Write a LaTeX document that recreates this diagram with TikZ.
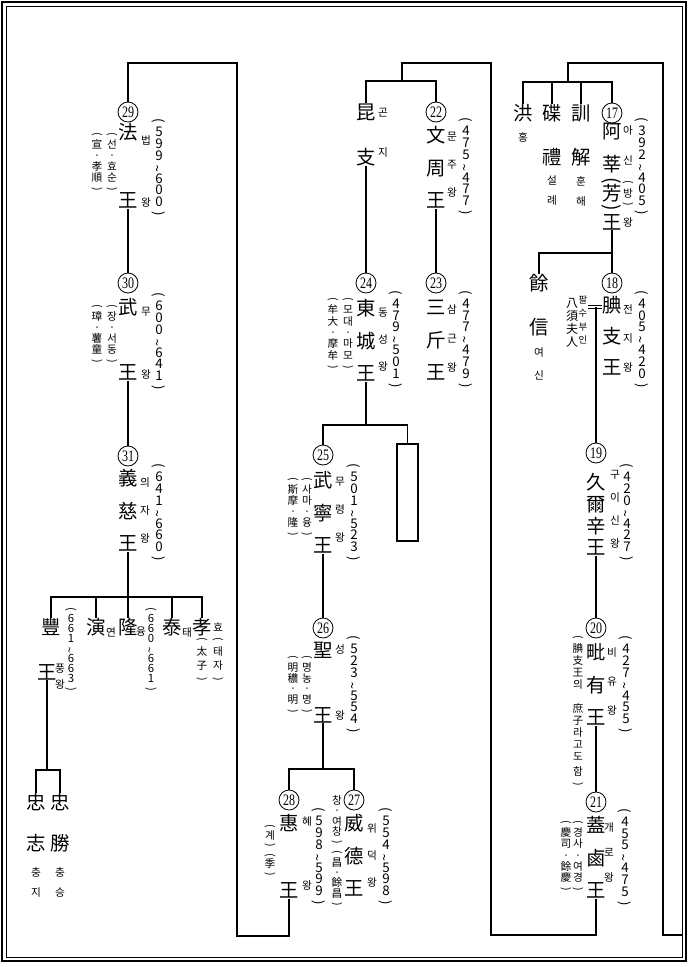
\documentclass[tikz,border=0pt]{standalone}
\usepackage{fontspec}
\usepackage{graphicx}
\setmainfont{Noto Sans CJK KR}
\newfontfamily\numfont{Liberation Serif}
\lineskiplimit=-\maxdimen
% vertical brackets and tilde
\newcommand\vlp{\rotatebox[origin=c]{-90}{(}}
\newcommand\vrp{\rotatebox[origin=c]{-90}{)}}
\newcommand\vtl{\rotatebox[origin=c]{90}{\textasciitilde}}
\newcommand\yrs[6]{\vlp\\#1\\#2\\#3\\\vtl\\#4\\#5\\#6\\\vrp}
\newcommand\ordno[1]{\scalebox{.75}[1]{#1}}

\begin{document}
\begin{tikzpicture}[x=0.75pt,y=-0.75pt,
			link/.style={line width=1pt},
			kingname/.style={font=\fontsize{14.5}{#1}\selectfont,align=center,inner sep=0pt},
			kingname/.default=24.4pt,
			rubytext/.style={font=\fontsize{8}{#1}\selectfont,align=center,inner sep=0pt},
			rubytext/.default=21pt,
			reignyears/.style={font=\fontsize{10}{8.7}\selectfont,align=center,inner sep=0pt},
			aliasnote/.style={font=\fontsize{8}{#1}\selectfont,align=center,inner sep=0pt},
			aliasnote/.default=8.5pt,
			ordinal/.style={circle,draw,line width=0.6pt,minimum size=15pt,inner sep=0pt,
				font=\numfont\fontsize{12}{12}\selectfont}
			]
			\useasboundingbox (0,0) rectangle (690,967);
			% frame
			\draw[line width=1.8pt] (2,2) rectangle (686,961);
			\draw[line width=0.7pt] (6,6) rectangle (682,957);

			% right column: 17 - 21
			\node[ordinal] (c17) at (612,113) {\ordno{17}};
			\node[kingname] (n17) at (612,176.5) {阿\\莘\\[-12.75pt]\vlp\\[-14.25pt]芳\\[-14.25pt]\vrp\\[-12.75pt]王};
			\node[rubytext=24.75pt] (r17) at (628,176) {아\\[-2.25pt]신\\[-8.25pt]\vlp\\[-16.5pt]방\\[-16.5pt]\vrp\\[-11.25pt]왕};
			\node[reignyears] (y17) at (642,167.5) {\yrs392405};
			\node[kingname] (hong) at (523,113) {洪};
			\node[rubytext] (hongr) at (523,137) {홍};
			\node[kingname=33pt] (seolye) at (552,135) {碟\\禮};
			\node[rubytext=15pt] (seolyer) at (552,191) {설\\례};
			\node[kingname=33pt] (hunhae) at (581,135) {訓\\解};
			\node[rubytext=15pt] (hunhaer) at (581,191) {훈\\해};

			\node[kingname=33pt] (yeosin) at (539,305) {餘\\信};
			\node[rubytext=17.25pt] (yeosinr) at (539,363.5) {여\\신};
			\node[ordinal] (c18) at (612,283) {\ordno{18}};
			\node[kingname=23.25pt] (n18) at (612,336) {腆\\支\\王};
			\node[rubytext=21.4pt] (r18) at (628,338.5) {전\\지\\왕};
			\node[reignyears] (y18) at (642,340) {\yrs405420};
			\node[align=center,inner sep=0pt,font=\fontsize{9}{9.75}\selectfont] (palsu) at (572,322.5) {八\\須\\夫\\人};
			\node[rubytext=10pt,font=\fontsize{7}{10}\selectfont] (palsur) at (583,320) {팔\\수\\부\\인};

			\node[ordinal] (c19) at (596,453) {\ordno{19}};
			\node[kingname=16.25pt] (n19) at (596,514.5) {久\\爾\\辛\\王};
			\node[rubytext=17.25pt] (r19) at (615,509.5) {구\\이\\신\\왕};
			\node[reignyears] (y19) at (627,513.5) {\yrs420427};

			\node[ordinal] (c20) at (596,628) {\ordno{20}};
			\node[kingname] (n20) at (596,684.5) {毗\\有\\王};
			\node[rubytext=21.75pt] (r20) at (612,681) {비\\유\\왕};
			\node[reignyears] (y20) at (626,685.5) {\yrs427455};
			\node[aliasnote=9pt] (a20) at (578,711.5) {\vlp\\腆\\支\\王\\의\\[9pt]庶\\子\\라\\고\\도\\[2.25pt]함\\\vrp};

			\node[ordinal] (c21) at (596,802) {\ordno{21}};
			\node[kingname] (n21) at (596,857.5) {蓋\\鹵\\王};
			\node[rubytext=19.1pt] (r21) at (609,852.5) {개\\로\\왕};
			\node[reignyears] (y21) at (625,858) {\yrs455475};
			\node[aliasnote=8.4pt] (a21) at (578,856.5) {\vlp\\경\\사\\·\\여\\경\\\vrp};
			\node[aliasnote=8.4pt] (b21) at (566,856.5) {\vlp\\慶\\司\\·\\餘\\慶\\\vrp};

			% middle column: 22 - 28
			\node[kingname=33.75pt] (gonji) at (366,134.5) {昆\\支};
			\node[rubytext=30pt] (gonjir) at (383,133) {곤\\지};
			\node[ordinal] (c22) at (436,112) {\ordno{22}};
			\node[kingname] (n22) at (436,167.5) {文\\周\\王};
			\node[rubytext] (r22) at (452,165) {문\\주\\왕};
			\node[reignyears] (y22) at (466,167.5) {\yrs475477};

			\node[ordinal] (c23) at (436,283) {\ordno{23}};
			\node[kingname] (n23) at (436,340.5) {三\\斤\\王};
			\node[rubytext=21.4pt] (r23) at (452,338.5) {삼\\근\\왕};
			\node[reignyears] (y23) at (466,340) {\yrs477479};

			\node[ordinal] (c24) at (366,283) {\ordno{24}};
			\node[kingname] (n24) at (366,340.5) {東\\城\\王};
			\node[rubytext=20.25pt] (r24) at (383,340) {동\\성\\왕};
			\node[reignyears] (y24) at (396,340) {\yrs479501};
			\node[aliasnote] (a24) at (348,334) {\vlp\\모\\대\\·\\마\\모\\\vrp};
			\node[aliasnote] (b24) at (333,334) {\vlp\\牟\\大\\·\\摩\\牟\\\vrp};

			\node[draw,line width=1.2pt,minimum width=15.75pt,minimum height=72.75pt,inner sep=0pt] (blank) at (407.5,492.5) {};

			\node[ordinal] (c25) at (323,455) {\ordno{25}};
			\node[kingname] (n25) at (323,512.5) {武\\寧\\王};
			\node[rubytext] (r25) at (340,510) {무\\령\\왕};
			\node[reignyears] (y25) at (354,513.5) {\yrs501523};
			\node[aliasnote=8.25pt] (a25) at (307,507.5) {\vlp\\사\\마\\·\\융\\\vrp};
			\node[aliasnote=8.25pt] (b25) at (293,507.5) {\vlp\\斯\\摩\\·\\隆\\\vrp};

			\node[ordinal] (c26) at (323,628) {\ordno{26}};
			\node[kingname=48.75pt] (n26) at (323,682.5) {聖\\王};
			\node[rubytext=49.5pt] (r26) at (340,682) {성\\왕};
			\node[reignyears] (y26) at (354,685.5) {\yrs523554};
			\node[aliasnote=8.1pt] (a26) at (307,685) {\vlp\\명\\농\\·\\명\\\vrp};
			\node[aliasnote=8.1pt] (b26) at (293,685) {\vlp\\明\\穠\\·\\明\\\vrp};

			\node[ordinal] (c27) at (354,800) {\ordno{27}};
			\node[kingname] (n27) at (354,855.5) {威\\德\\王};
			\node[rubytext=20.6pt] (r27) at (372,855.5) {위\\덕\\왕};
			\node[reignyears] (y27) at (386,857.5) {\yrs554598};
			\node[aliasnote=7.7pt] (a27) at (337,851.5) {창\\·\\여\\창\\\vrp\\\vlp\\昌\\·\\餘\\昌\\\vrp};

			\node[ordinal] (c28) at (289,800) {\ordno{28}};
			\node[kingname=50.25pt] (n28) at (289,856.5) {惠\\王};
			\node[rubytext=48pt] (r28) at (307,853) {혜\\왕};
			\node[reignyears] (y28) at (319,857.5) {\yrs598599};
			\node[aliasnote=7.2pt] (a28) at (270,851) {\vlp\\계\\\vrp\\\vlp\\季\\\vrp};

			% left column: 29 - 31
			\node[ordinal] (c29) at (128,112) {\ordno{29}};
			\node[kingname=51pt] (n29) at (128,166) {法\\王};
			\node[rubytext=46.5pt] (r29) at (146,171) {법\\왕};
			\node[reignyears] (y29) at (159,168.5) {\yrs599600};
			\node[aliasnote=8.25pt] (a29) at (112,162.5) {\vlp\\선\\·\\효\\순\\\vrp};
			\node[aliasnote=8.25pt] (b29) at (97,162.5) {\vlp\\宣\\·\\孝\\順\\\vrp};

			\node[ordinal] (c30) at (128,283) {\ordno{30}};
			\node[kingname=48.75pt] (n30) at (128,339.5) {武\\王};
			\node[rubytext=47.25pt] (r30) at (146,343.5) {무\\왕};
			\node[reignyears] (y30) at (159,342.5) {\yrs600641};
			\node[aliasnote=8.25pt] (a30) at (112,334.5) {\vlp\\장\\·\\서\\동\\\vrp};
			\node[aliasnote=8.25pt] (b30) at (97,334.5) {\vlp\\璋\\·\\薯\\童\\\vrp};

			\node[ordinal] (c31) at (128,456) {\ordno{31}};
			\node[kingname] (n31) at (128,510.5) {義\\慈\\王};
			\node[rubytext] (r31) at (145,510) {의\\자\\왕};
			\node[reignyears] (y31) at (159,513.5) {\yrs641660};

			% sons of 31
			\node[kingname] (pung) at (51,627) {豐};
			\node[kingname] (pungw) at (47,672) {王};
			\node[rubytext=12pt] (pungr) at (60,677) {풍\\왕};
			\node[reignyears,font=\fontsize{8.5}{7.5}\selectfont] (ypung) at (71,650) {\yrs661663};
			\node[kingname] (yeon) at (96,627) {演};
			\node[rubytext] (yeonr) at (111,632) {연};
			\node[kingname] (yung) at (128,627) {隆};
			\node[rubytext] (yungr) at (141,632) {융};
			\node[reignyears,font=\fontsize{8.5}{7.5}\selectfont] (yyung) at (151,650) {\yrs660661};
			\node[kingname] (tae) at (172,627) {泰};
			\node[rubytext] (taer) at (187,632) {태};
			\node[kingname] (hyo) at (202,627) {孝};
			\node[rubytext] (hyor) at (218,627) {효};
			\node[aliasnote=10pt] (a32) at (202,660) {\vlp\\太\\子\\\vrp};
			\node[aliasnote=10pt] (b32) at (218,660) {\vlp\\태\\자\\\vrp};
			\node[kingname=30.75pt] (chung1) at (36,822.5) {忠\\志};
			\node[kingname=30.75pt] (chung2) at (60,822.5) {忠\\勝};
			\node[rubytext=15pt] (chung1r) at (36,882) {충\\지};
			\node[rubytext=15pt] (chung2r) at (60,882) {충\\승};

			% connectors
			\coordinate (bar17) at (568,82);
			\coordinate (bar18) at (575,253);
			\coordinate (wed) at (596,307);
			\coordinate (bar22) at (402,81);
			\coordinate (bar25) at (366,425);
			\coordinate (bar27) at (323,769);
			\coordinate (bar32) at (128,597);
			\coordinate (bar33) at (47,770);
			\draw[link] (682,935) -| (663,63) -| (bar17);
			\draw[link] (hong.north) |- (bar17) -| (c17.north);
			\draw[link] (seolye.north) -- (seolye.north |- bar17);
			\draw[link] (hunhae.north) -- (hunhae.north |- bar17);
			\draw[link] (n17.south) -- (c18.north);
			\draw[link] (c18.north) |- (bar18) -| (yeosin.north);
			\draw[link,double,double distance=1.2pt,line width=0.6pt] (palsur.east |- wed) -- (n18.west |- wed);
			\draw[link] (wed) -- (c19.north);
			\draw[link] (n19.south) -- (c20.north);
			\draw[link] (n20.south) -- (c21.north);
			\draw[link] (n21.south) |- (491,935) |- (402,63) -- (bar22);
			\draw[link] (gonji.north) |- (bar22) -| (c22.north);
			\draw[link] (gonji.south) -- (c24.north);
			\draw[link] (n22.south) -- (c23.north);
			\draw[link] (n24.south) -- (bar25);
			\draw[link] (c25.north) |- (bar25) -| (blank.north);
			\draw[link] (n25.south) -- (c26.north);
			\draw[link] (n26.south) -- (bar27);
			\draw[link] (c28.north) |- (bar27) -| (c27.north);
			\draw[link] (n28.south) |- (237,936) |- (128,63) -- (c29.north);
			\draw[link] (n29.south) -- (c30.north);
			\draw[link] (n30.south) -- (c31.north);
			\draw[link] (n31.south) -- (bar32);
			\draw[link] (pung.north) |- (bar32) -| (hyo.north);
			\draw[link] (yeon.north) -- (yeon.north |- bar32);
			\draw[link] (bar32) -- (yung.north);
			\draw[link] (tae.north) -- (tae.north |- bar32);
			\draw[link] (pungw.south) -- (bar33);
			\draw[link] (chung1.north) |- (bar33) -| (chung2.north);
		\end{tikzpicture}
\end{document}
